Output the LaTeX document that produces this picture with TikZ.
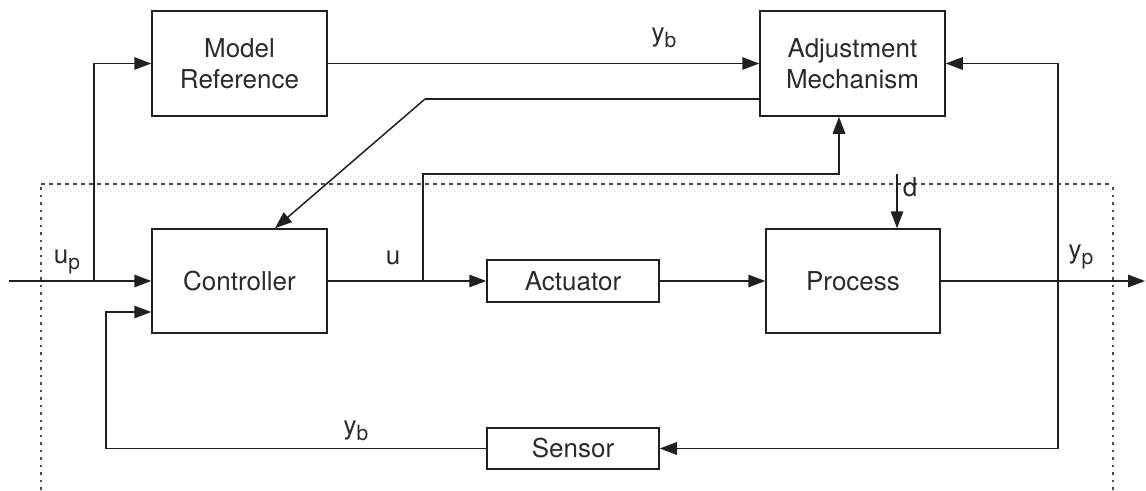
\documentclass[tikz,border=0pt]{standalone}
\usepackage{fontspec}
\setmainfont{TeX Gyre Heros}
\usetikzlibrary{arrows.meta}
\definecolor{ink}{HTML}{231F20}
\definecolor{txt}{HTML}{2B2B2B}
% signal subscript: slightly smaller letter, a little lowered
\newcommand{\sigsub}[1]{\raisebox{-0.2em}{\fontsize{21}{21}\selectfont #1}}
\begin{document}
\begin{tikzpicture}[x=1pt,y=-1pt,
  every node/.style={text=txt, font=\fontsize{26}{31}\selectfont},
  blockbox/.style={draw=ink, line width=1.5pt, inner sep=0pt, align=center},
  conn/.style={draw=ink, line width=1.5pt},
  arr/.style={conn, -{Triangle[length=17pt,width=12.5pt]}},
  framedash/.style={draw=ink!80, line width=1.3pt, dash pattern=on 4pt off 4pt},
  framedot/.style={draw=ink!80, line width=1.8pt, dash pattern=on 2.5pt off 5pt},
  sig/.style={inner sep=0pt}]
\useasboundingbox (0,0) rectangle (1146,490);

% blocks
\node[blockbox, minimum width=175pt, minimum height=105pt] (mref) at (239.5,63.5) {Model\\Reference};
\node[blockbox, minimum width=185pt, minimum height=105pt] (adj) at (852.5,63.5) {Adjustment\\Mechanism};
\node[blockbox, minimum width=175pt, minimum height=104pt] (ctrl) at (239.5,281) {Controller};
\node[blockbox, minimum width=172pt, minimum height=42pt] (act) at (573,281) {Actuator};
\node[blockbox, minimum width=174pt, minimum height=104pt] (proc) at (853,281) {Process};
\node[blockbox, minimum width=172pt, minimum height=41pt] (sens) at (573,448.5) {Sensor};

% plant boundary
\draw[framedash] (41,184) -- (1113,184);
\draw[framedot] (41,187) -- (41,490);
\draw[framedot] (1113,187) -- (1113,490);

% helper points
\coordinate (in) at (9,281);
\coordinate (br) at (94,281);
\coordinate (ub) at (423,281);
\coordinate (ut) at (423,174);
\coordinate (ak) at (425,99);
\coordinate (dtop) at (897,174);
\coordinate (out) at (1145,281);
\coordinate (fb) at (1058,448.5);
\coordinate (fl) at (106,448.5);

% signal paths
\draw[arr] (in) -- (ctrl.west);
\draw[arr] (br) |- (mref.west);
\draw[arr] (mref.east) -- (adj.west);
\draw[conn] (adj.west |- ak) -- (ak);
\draw[arr] (ak) -- (ctrl.north -| 275,0);
\draw[arr] (ctrl.east) -- (act.west);
\draw[arr] (ub) -- (ut) -- (ut -| 839,0) -- (adj.south -| 839,0);
\draw[arr] (act.east) -- (proc.west);
\draw[arr] (dtop) -- (proc.north -| dtop);
\draw[arr] (proc.east) -- (out);
\draw[arr] (fb) |- (adj.east);
\draw[arr] (fb) -- (sens.east);
\draw[arr] (sens.west) -- (fl) |- (ctrl.west |- 0,312);

% signal labels
\node[sig] (lyb1) at (664,38) {y\sigsub{b}};
\node[sig] (lup) at (67,262) {u\sigsub{p}};
\node[sig] (lu) at (393,258) {u};
\node[sig] (lyp) at (1081,257) {y\sigsub{p}};
\node[sig] (lyb2) at (356,431) {y\sigsub{b}};
\node[sig] (ld) at (910,187) {d};
\end{tikzpicture}
\end{document}
